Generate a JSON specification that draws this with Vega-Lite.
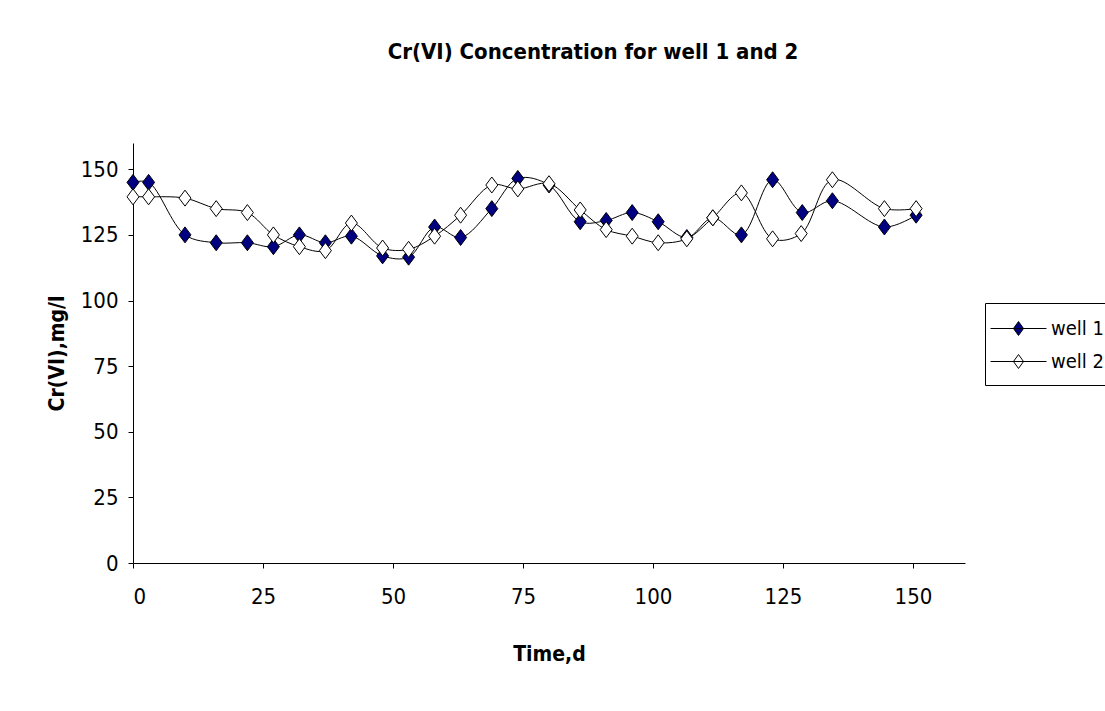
{
  "$schema": "https://vega.github.io/schema/vega-lite/v6.json",
  "width": 832,
  "height": 420,
  "autosize": {"type": "none"},
  "padding": {"left": 133, "top": 143, "right": 140, "bottom": 148},
  "background": "white",
  "config": {
    "view": {"stroke": null},
    "font": "DejaVu Sans Condensed, Liberation Sans, sans-serif",
    "axis": {
      "domainColor": "black",
      "tickColor": "black",
      "labelColor": "black",
      "titleColor": "black",
      "labelFont": "DejaVu Sans Condensed, Liberation Sans, sans-serif",
      "titleFont": "DejaVu Sans Condensed, Liberation Sans, sans-serif",
      "labelFontSize": 22,
      "titleFontSize": 21,
      "titleFontWeight": "bold",
      "grid": false,
      "tickSize": 5
    }
  },
  "title": {
    "text": "Cr(VI) Concentration for well 1 and 2",
    "font": "DejaVu Sans Condensed, Liberation Sans, sans-serif",
    "fontSize": 22,
    "fontWeight": "bold",
    "color": "black",
    "anchor": "middle",
    "dx": 44,
    "offset": 79
  },
  "data": {
    "values": [
      {"series": "well 1", "t": 0, "v": 145},
      {"series": "well 1", "t": 3, "v": 145},
      {"series": "well 1", "t": 10, "v": 125},
      {"series": "well 1", "t": 16, "v": 122},
      {"series": "well 1", "t": 22, "v": 122},
      {"series": "well 1", "t": 27, "v": 120.5},
      {"series": "well 1", "t": 32, "v": 125},
      {"series": "well 1", "t": 37, "v": 122},
      {"series": "well 1", "t": 42, "v": 124.5},
      {"series": "well 1", "t": 48, "v": 117},
      {"series": "well 1", "t": 53, "v": 116.5},
      {"series": "well 1", "t": 58, "v": 128},
      {"series": "well 1", "t": 63, "v": 124},
      {"series": "well 1", "t": 69, "v": 135},
      {"series": "well 1", "t": 74, "v": 146.5},
      {"series": "well 1", "t": 80, "v": 144},
      {"series": "well 1", "t": 86, "v": 130},
      {"series": "well 1", "t": 91, "v": 130.5},
      {"series": "well 1", "t": 96, "v": 133.5},
      {"series": "well 1", "t": 101, "v": 130},
      {"series": "well 1", "t": 106.5, "v": 124},
      {"series": "well 1", "t": 111.5, "v": 131.5},
      {"series": "well 1", "t": 117, "v": 125},
      {"series": "well 1", "t": 123, "v": 146},
      {"series": "well 1", "t": 128.7, "v": 133.5},
      {"series": "well 1", "t": 134.5, "v": 138},
      {"series": "well 1", "t": 144.5, "v": 128},
      {"series": "well 1", "t": 150.6, "v": 132.5},
      {"series": "well 2", "t": 0, "v": 139.5},
      {"series": "well 2", "t": 3, "v": 139.5},
      {"series": "well 2", "t": 10, "v": 139},
      {"series": "well 2", "t": 16, "v": 135},
      {"series": "well 2", "t": 22, "v": 133.5},
      {"series": "well 2", "t": 27, "v": 125},
      {"series": "well 2", "t": 32, "v": 120.5},
      {"series": "well 2", "t": 37, "v": 119},
      {"series": "well 2", "t": 42, "v": 129.5},
      {"series": "well 2", "t": 48, "v": 120},
      {"series": "well 2", "t": 53, "v": 119.5},
      {"series": "well 2", "t": 58, "v": 124.5},
      {"series": "well 2", "t": 63, "v": 132.5},
      {"series": "well 2", "t": 69, "v": 144},
      {"series": "well 2", "t": 74, "v": 142.5},
      {"series": "well 2", "t": 80, "v": 144.5},
      {"series": "well 2", "t": 86, "v": 134.5},
      {"series": "well 2", "t": 91, "v": 127},
      {"series": "well 2", "t": 96, "v": 124.5},
      {"series": "well 2", "t": 101, "v": 122},
      {"series": "well 2", "t": 106.5, "v": 123.5},
      {"series": "well 2", "t": 111.5, "v": 131.5},
      {"series": "well 2", "t": 117, "v": 141},
      {"series": "well 2", "t": 123, "v": 123.5},
      {"series": "well 2", "t": 128.5, "v": 125.5},
      {"series": "well 2", "t": 134.5, "v": 146},
      {"series": "well 2", "t": 144.5, "v": 135},
      {"series": "well 2", "t": 150.6, "v": 135}
    ]
  },
  "encoding": {
    "x": {
      "field": "t",
      "type": "quantitative",
      "scale": {"domain": [0, 160], "nice": false},
      "axis": {"values": [0, 25, 50, 75, 100, 125, 150], "title": "Time,d", "labelPadding": 18, "titlePadding": 36}
    },
    "y": {
      "field": "v",
      "type": "quantitative",
      "scale": {"domain": [0, 160], "nice": false},
      "axis": {"values": [0, 25, 50, 75, 100, 125, 150], "title": "Cr(VI),mg/l", "labelPadding": 10, "titlePadding": 13}
    }
  },
  "layer": [
    {
      "mark": {"type": "line", "interpolate": "catmull-rom", "color": "black", "strokeWidth": 1},
      "encoding": {"detail": {"field": "series", "type": "nominal"}}
    },
    {
      "mark": {
        "type": "point",
        "filled": true,
        "shape": "M0,-1.14L0.857,0L0,1.14L-0.857,0Z",
        "size": 196,
        "stroke": "black",
        "strokeWidth": 1,
        "opacity": 1
      },
      "encoding": {
        "fill": {
          "field": "series",
          "type": "nominal",
          "scale": {"domain": ["well 1", "well 2"], "range": ["#000080", "#ffffff"]},
          "legend": {
            "orient": "none",
            "legendX": 852,
            "legendY": 160,
            "title": null,
            "strokeColor": "black",
            "fillColor": "white",
            "padding": 13,
            "symbolType": "M-2.33,0H2.33M0,-0.58L0.42,0L0,0.58L-0.42,0Z",
            "symbolSize": 576,
            "symbolStrokeColor": "black",
            "symbolStrokeWidth": 1,
            "symbolOpacity": 1,
            "symbolOffset": 8,
            "labelOffset": 20,
            "labelFontSize": 20,
            "labelFont": "DejaVu Sans Condensed, Liberation Sans, sans-serif",
            "labelColor": "black",
            "rowPadding": 10
          }
        }
      }
    }
  ]
}
